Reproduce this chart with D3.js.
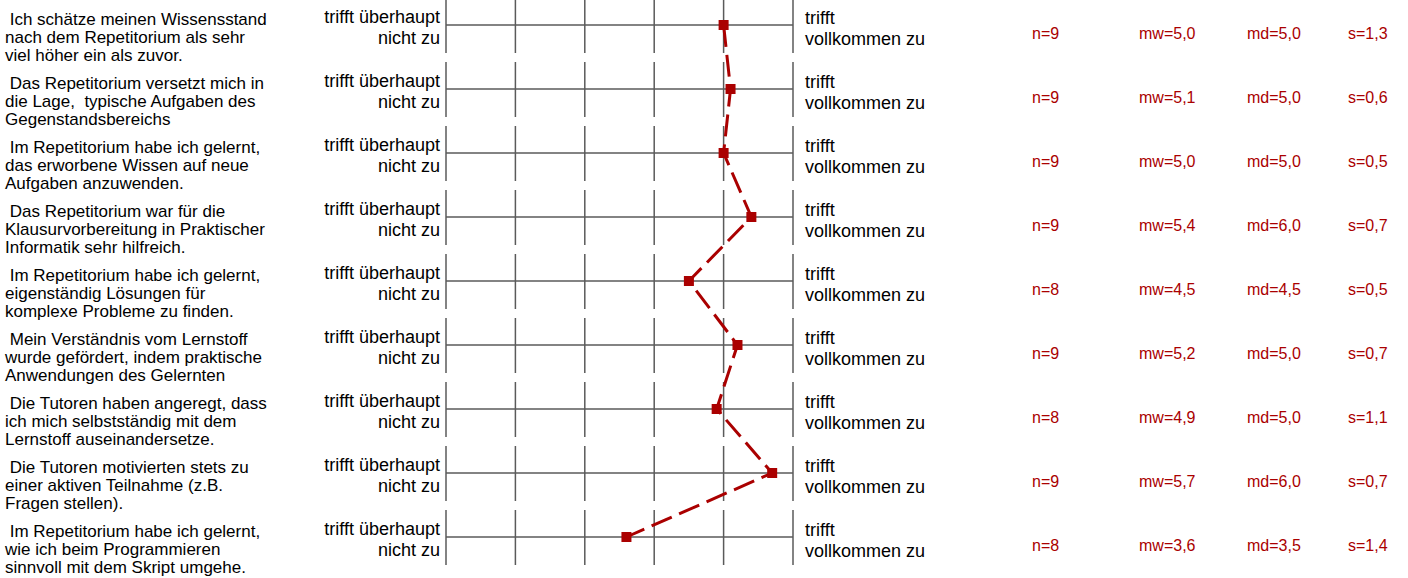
<!DOCTYPE html>
<html><head><meta charset="utf-8">
<script src="https://cdn.jsdelivr.net/npm/d3@7"></script>
<style>
html,body{margin:0;padding:0;background:#fff;}
svg{display:block;font-family:"Liberation Sans",Arial,sans-serif;}
</style></head>
<body><svg id="c" width="1408" height="578"></svg>
<script>
const questions = [
  [" Ich schätze meinen Wissensstand", "nach dem Repetitorium als sehr", "viel höher ein als zuvor."],
  [" Das Repetitorium versetzt mich in", "die Lage,  typische Aufgaben des", "Gegenstandsbereichs"],
  [" Im Repetitorium habe ich gelernt,", "das erworbene Wissen auf neue", "Aufgaben anzuwenden."],
  [" Das Repetitorium war für die", "Klausurvorbereitung in Praktischer", "Informatik sehr hilfreich."],
  [" Im Repetitorium habe ich gelernt,", "eigenständig Lösungen für", "komplexe Probleme zu finden."],
  [" Mein Verständnis vom Lernstoff", "wurde gefördert, indem praktische", "Anwendungen des Gelernten"],
  [" Die Tutoren haben angeregt, dass", "ich mich selbstständig mit dem", "Lernstoff auseinandersetze."],
  [" Die Tutoren motivierten stets zu", "einer aktiven Teilnahme (z.B.", "Fragen stellen)."],
  [" Im Repetitorium habe ich gelernt,", "wie ich beim Programmieren", "sinnvoll mit dem Skript umgehe."]
];
const leftPole = ["trifft überhaupt", "nicht zu"];
const rightPole = ["trifft", "vollkommen zu"];
const nValues = [9, 9, 9, 9, 8, 9, 8, 9, 8];
const means = [5.0, 5.1, 5.0, 5.4, 4.5, 5.2, 4.9, 5.7, 3.6];
const medians = [5.0, 5.0, 5.0, 6.0, 4.5, 5.0, 5.0, 6.0, 3.5];
const sds = [1.3, 0.6, 0.5, 0.7, 0.5, 0.7, 1.1, 0.7, 1.4];
const scaleTicks = [1, 2, 3, 4, 5, 6];

const svg = d3.select("#c");
const fmt = v => v.toFixed(1).replace(".", ",");
const red = "#aa0000";
const grid = "#5a5a5a";

const x = d3.scaleLinear().domain([1, 6]).range([446, 793]);
const y = d3.scalePoint().domain(d3.range(questions.length)).range([25, 537]);

const rows = svg.selectAll("g.row").data(questions).join("g").attr("class", "row")
  .attr("transform", (d, i) => `translate(0,${y(i)})`);

// question text
rows.each(function(lines) {
  const t = d3.select(this).append("text").attr("x", 5).attr("y", 0)
    .attr("font-size", 17).attr("fill", "#000").attr("xml:space", "preserve");
  lines.forEach((l, k) => t.append("tspan").attr("x", 5).attr("y", k * 18).text(l));
});

// left pole
rows.append("text").attr("text-anchor", "end").attr("font-size", 18).attr("fill", "#000")
  .selectAll("tspan").data(leftPole).join("tspan")
  .attr("x", 440).attr("y", (d, k) => -2 + k * 21).text(d => d);

// right pole
rows.append("text").attr("font-size", 18).attr("fill", "#000")
  .selectAll("tspan").data(rightPole).join("tspan")
  .attr("x", 805).attr("y", (d, k) => -1.5 + k * 21).text(d => d);

// grid
rows.append("line").attr("x1", x(1)).attr("x2", x(6)).attr("y1", 0).attr("y2", 0)
  .attr("stroke", grid).attr("stroke-width", 1.5);
rows.selectAll("line.tick").data(scaleTicks).join("line").attr("class", "tick")
  .attr("x1", d => x(d)).attr("x2", d => x(d)).attr("y1", -27).attr("y2", 28)
  .attr("stroke", grid).attr("stroke-width", 1.5);

// stats
const statX = [1032, 1139, 1247, 1348];
rows.each(function(d, i) {
  const g = d3.select(this);
  const vals = ["n=" + nValues[i], "mw=" + fmt(means[i]), "md=" + fmt(medians[i]), "s=" + fmt(sds[i])];
  g.selectAll("text.stat").data(vals).join("text").attr("class", "stat")
    .attr("x", (v, k) => statX[k]).attr("y", 13.5).attr("font-size", 16).attr("fill", red).text(v => v);
});

// profile line
const line = d3.line().x(d => x(d)).y((d, i) => y(i));
svg.append("path").datum(means).attr("d", line).attr("fill", "none")
  .attr("stroke", red).attr("stroke-width", 3).attr("stroke-dasharray", "22,8");
svg.selectAll("rect.mk").data(means).join("rect").attr("class", "mk")
  .attr("x", d => x(d) - 5).attr("y", (d, i) => y(i) - 5).attr("width", 10).attr("height", 10)
  .attr("fill", red);
</script></body></html>
